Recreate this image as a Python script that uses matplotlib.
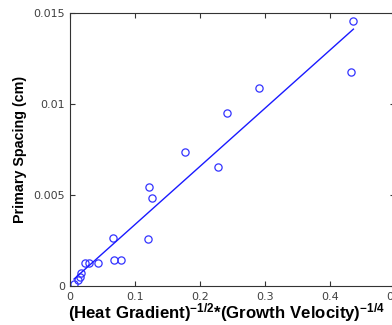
import numpy as np
import matplotlib
matplotlib.use("Agg")
import matplotlib.pyplot as plt
from matplotlib import font_manager

plt.rcParams['font.family'] = ['Liberation Sans', 'DejaVu Sans']
plt.rcParams['mathtext.fontset'] = 'custom'
plt.rcParams['mathtext.rm'] = 'Liberation Sans'
plt.rcParams['mathtext.bf'] = 'Liberation Sans:bold'

x_vals = [0.0062, 0.0124, 0.0155, 0.017, 0.0232, 0.029, 0.0433, 0.067, 0.079,
          0.0666, 0.1197, 0.1223, 0.1259, 0.1765, 0.228, 0.241, 0.2915, 0.432, 0.436]
y_vals = [0.00011, 0.00033, 0.00052, 0.00071, 0.00128, 0.00128, 0.00128, 0.00143, 0.00143,
          0.00266, 0.00257, 0.00542, 0.00484, 0.00736, 0.00654, 0.0095, 0.01088, 0.01177, 0.01458]
x_ticks = [0, 0.1, 0.2, 0.3, 0.4, 0.5]
x_tick_labels = ['0', '0.1', '0.2', '0.3', '0.4', '0.5']
y_ticks = [0, 0.005, 0.01, 0.015]
y_tick_labels = ['0', '0.005', '0.01', '0.015']

# narrow font for the rotated y label, if available
narrow = 'Liberation Sans Narrow'
try:
    font_manager.findfont(font_manager.FontProperties(family=narrow, weight='bold'),
                          fallback_to_default=False)
    ylab_family, ylab_size = [narrow, 'Liberation Sans'], 12.5
except Exception:
    ylab_family, ylab_size = ['Liberation Sans'], 10.3

x = np.array(x_vals)
y = np.array(y_vals)
b, a = np.polyfit(x, y, 1)
xf = np.array([x.min(), x.max()])

fig = plt.figure(figsize=(3.92, 3.25), dpi=100)
ax = fig.add_axes([70/392, 39/325, 325/392, 272.7/325])
ax.plot(x, y, 'o', mfc='none', mec='#3333ff', ms=5.2, mew=0.9)
ax.plot(xf, a + b*xf, '-', color='#1a1aff', lw=1)
ax.set_xlim(0, 0.5)
ax.set_ylim(0, 0.015)
ax.set_xticks(x_ticks)
ax.set_xticklabels(x_tick_labels)
ax.set_yticks(y_ticks)
ax.set_yticklabels(y_tick_labels)
ax.tick_params(direction='in', length=3.5, width=0.8, top=True, right=True,
               labelsize=8, colors='#333333')
ax.tick_params(axis='x', pad=4)
ax.tick_params(axis='y', pad=3.5)
for lab in ax.get_xticklabels() + ax.get_yticklabels():
    lab.set_family(['DejaVu Sans'])
    lab.set_color('#404040')
for s in ax.spines.values():
    s.set_color('#333333')
    s.set_linewidth(0.8)
ax.set_xlabel(r"$\mathbf{(Heat\ Gradient)^{-1/2}{*}(Growth\ Velocity)^{-1/4}}$",
              fontsize=12.1)
ax.xaxis.set_label_coords((226.5 - 70) / 325, -15 / 272.7)
ax.set_ylabel("Primary Spacing (cm)", fontsize=ylab_size, fontweight='bold',
              family=ylab_family)
ax.yaxis.set_label_coords(-42.5 / 325, 0.5)
fig.savefig("out.png", dpi=100)
